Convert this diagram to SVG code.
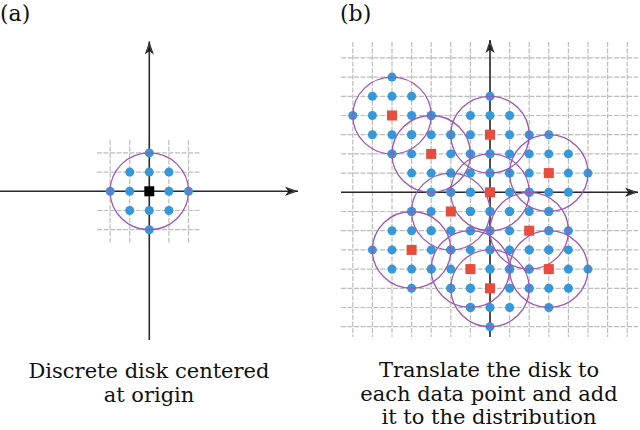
<svg xmlns="http://www.w3.org/2000/svg" xmlns:xlink="http://www.w3.org/1999/xlink" width="640" height="430" viewBox="0 0 640 430">
<style>
.grid{fill:none;stroke:#bdbdbd;stroke-width:1.2;stroke-dasharray:5 1.5}
.axis{fill:none;stroke:#2a2a2a;stroke-width:1.6;marker-end:url(#arr)}
.dot{fill:#3498db}
.ring{fill:none;stroke:#9b59b6;stroke-width:1.3}
.pt{fill:#e74c3c}
.lbl{font-family:'DejaVu Serif','Liberation Serif',serif;font-size:22px;fill:#111}
.cap{font-family:'DejaVu Serif','Liberation Serif',serif;font-size:21px;fill:#111;text-anchor:middle}
</style>
<defs>
<marker id="arr" viewBox="-14 -5 15 10" refX="0" refY="0" markerWidth="15" markerHeight="10" markerUnits="userSpaceOnUse" orient="auto">
<path d="M0,0 L-13,-4.5 L-9.5,0 L-13,4.5 Z" fill="#1a1a1a"/>
<path d="M-3,0 L-10,-2.5 M-3,0 L-10,2.5" stroke="#555" stroke-width="0.8" fill="none"/>
</marker>
<g id="dots">
<circle class="dot" cx="0" cy="0" r="4.5"/>
<circle class="dot" cx="19.6" cy="0" r="4.5"/>
<circle class="dot" cx="-19.6" cy="0" r="4.5"/>
<circle class="dot" cx="39.2" cy="0" r="4.5"/>
<circle class="dot" cx="-39.2" cy="0" r="4.5"/>
<circle class="dot" cx="0" cy="19.2" r="4.5"/>
<circle class="dot" cx="0" cy="-19.2" r="4.5"/>
<circle class="dot" cx="0" cy="38.4" r="4.5"/>
<circle class="dot" cx="0" cy="-38.4" r="4.5"/>
<circle class="dot" cx="19.6" cy="19.2" r="4.5"/>
<circle class="dot" cx="19.6" cy="-19.2" r="4.5"/>
<circle class="dot" cx="-19.6" cy="19.2" r="4.5"/>
<circle class="dot" cx="-19.6" cy="-19.2" r="4.5"/>
</g>
<ellipse id="ring" class="ring" cx="0" cy="0" rx="39.2" ry="38.4"/>
<rect id="sq" class="pt" x="-5" y="-5" width="10" height="10"/>
</defs>
<rect width="640" height="430" fill="#fff"/>

<g id="panel-a">
<text class="lbl" x="0" y="21">(a)</text>
<path class="grid" d="M110.1 140V243 M129.7 140V243 M149.3 140V243 M168.9 140V243 M188.5 140V243 M97 152.9H201 M97 172.1H201 M97 191.3H201 M97 210.5H201 M97 229.7H201"/>
<g id="axes-a">
<line class="axis" x1="0" y1="191.3" x2="298" y2="191.3"/>
<line class="axis" x1="149.3" y1="340" x2="149.3" y2="41.5"/>
</g>
<g id="disk-a">
<use xlink:href="#dots" x="149.3" y="191.3"/>
<use xlink:href="#ring" x="149.3" y="191.3"/>
<rect x="144.3" y="186.3" width="10" height="10" fill="#000"/>
</g>
<text class="cap" x="149" y="378">Discrete disk centered</text>
<text class="cap" x="149" y="402">at origin</text>
</g>

<g id="panel-b">
<text class="lbl" x="340" y="21">(b)</text>
<path class="grid" d="M352.8 42V337 M372.4 42V337 M392 42V337 M411.6 42V337 M431.2 42V337 M450.8 42V337 M470.4 42V337 M490 42V337 M509.6 42V337 M529.2 42V337 M548.8 42V337 M568.4 42V337 M588 42V337 M607.6 42V337 M627.2 42V337 M341 57.9H638 M341 77.1H638 M341 96.3H638 M341 115.5H638 M341 134.7H638 M341 153.9H638 M341 173.1H638 M341 192.3H638 M341 211.5H638 M341 230.7H638 M341 249.9H638 M341 269.1H638 M341 288.3H638 M341 307.5H638 M341 326.7H638"/>
<g id="axes-b">
<line class="axis" x1="341" y1="192.3" x2="638" y2="192.3"/>
<line class="axis" x1="490" y1="337" x2="490" y2="40"/>
</g>
<g id="disk-dots-b">
<use xlink:href="#dots" x="392" y="115.5"/>
<use xlink:href="#dots" x="431.2" y="153.9"/>
<use xlink:href="#dots" x="490" y="134.7"/>
<use xlink:href="#dots" x="548.8" y="173.1"/>
<use xlink:href="#dots" x="490" y="192.3"/>
<use xlink:href="#dots" x="450.8" y="211.5"/>
<use xlink:href="#dots" x="529.2" y="230.7"/>
<use xlink:href="#dots" x="411.6" y="249.9"/>
<use xlink:href="#dots" x="470.4" y="269.1"/>
<use xlink:href="#dots" x="548.8" y="269.1"/>
<use xlink:href="#dots" x="490" y="288.3"/>
</g>
<g id="disk-rings-b">
<use xlink:href="#ring" x="392" y="115.5"/>
<use xlink:href="#ring" x="431.2" y="153.9"/>
<use xlink:href="#ring" x="490" y="134.7"/>
<use xlink:href="#ring" x="548.8" y="173.1"/>
<use xlink:href="#ring" x="490" y="192.3"/>
<use xlink:href="#ring" x="450.8" y="211.5"/>
<use xlink:href="#ring" x="529.2" y="230.7"/>
<use xlink:href="#ring" x="411.6" y="249.9"/>
<use xlink:href="#ring" x="470.4" y="269.1"/>
<use xlink:href="#ring" x="548.8" y="269.1"/>
<use xlink:href="#ring" x="490" y="288.3"/>
</g>
<g id="data-points-b">
<use xlink:href="#sq" x="392" y="115.5"/>
<use xlink:href="#sq" x="431.2" y="153.9"/>
<use xlink:href="#sq" x="490" y="134.7"/>
<use xlink:href="#sq" x="548.8" y="173.1"/>
<use xlink:href="#sq" x="490" y="192.3"/>
<use xlink:href="#sq" x="450.8" y="211.5"/>
<use xlink:href="#sq" x="529.2" y="230.7"/>
<use xlink:href="#sq" x="411.6" y="249.9"/>
<use xlink:href="#sq" x="470.4" y="269.1"/>
<use xlink:href="#sq" x="548.8" y="269.1"/>
<use xlink:href="#sq" x="490" y="288.3"/>
</g>
<text class="cap" x="489" y="377">Translate the disk to</text>
<text class="cap" x="489" y="401">each data point and add</text>
<text class="cap" x="489" y="424">it to the distribution</text>
</g>
</svg>
